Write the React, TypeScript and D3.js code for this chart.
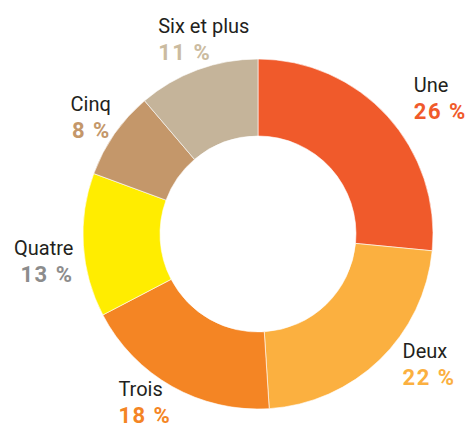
import { useEffect, useRef } from "react";
import * as d3 from "d3";

const categories = ["Une", "Deux", "Trois", "Quatre", "Cinq", "Six et plus"];
const shares = [26, 22, 18, 13, 8, 11];
const shareLabels = ["26 %", "22 %", "18 %", "13 %", "8 %", "11 %"];

const sliceColors = ["#f05a2b", "#fbb040", "#f48524", "#ffed00", "#c4976a", "#c5b49a"];
// yellow text is unreadable on white, so the Quatre share is printed in grey
const textColors = ["#f05a2b", "#fbb040", "#f48524", "#8c8c8c", "#c4976a", "#cbbba0"];

// where each label block sits, relative to the slice's mid angle at r=205
const labelNudge: Record<string, { dx: number; dy: number; anchor: string }> = {
    Une: { dx: 4, dy: -4, anchor: "start" },
    Deux: { dx: 2, dy: -23, anchor: "start" },
    Trois: { dx: -39, dy: -17, anchor: "start" },
    Quatre: { dx: 20, dy: 8, anchor: "end" },
    Cinq: { dx: 21, dy: -6, anchor: "end" },
    "Six et plus": { dx: -29, dy: -9, anchor: "start" },
};

export default function App() {
    const svgRef = useRef<SVGSVGElement>(null);

    useEffect(() => {
        if (!svgRef.current) return;
        const svg = d3.select(svgRef.current);
        svg.selectAll("*").remove();

        const cx = 258;
        const cy = 234;
        const outer = 175;
        const inner = 98;

        const data = categories.map((c, i) => ({ name: c, value: shares[i], label: shareLabels[i], i }));

        const pie = d3
            .pie<(typeof data)[number]>()
            .sort(null)
            .value((d) => d.value);
        const arcs = pie(data);

        const arc = d3.arc<d3.PieArcDatum<(typeof data)[number]>>().innerRadius(inner).outerRadius(outer);

        const g = svg.append("g").attr("transform", `translate(${cx},${cy})`);

        g.selectAll("path.slice")
            .data(arcs)
            .enter()
            .append("path")
            .attr("class", "slice")
            .attr("d", arc)
            .attr("fill", (d) => sliceColors[d.data.i])
            .attr("stroke", "#ffffff")
            .attr("stroke-width", 0.6);

        const labelArc = d3.arc<d3.PieArcDatum<(typeof data)[number]>>().innerRadius(205).outerRadius(205);

        const labels = g
            .selectAll("g.lbl")
            .data(arcs)
            .enter()
            .append("g")
            .attr("class", "lbl")
            .attr("transform", (d) => {
                const [x, y] = labelArc.centroid(d);
                const n = labelNudge[d.data.name];
                return `translate(${x + n.dx},${y + n.dy})`;
            });

        labels
            .append("text")
            .attr("text-anchor", (d) => labelNudge[d.data.name].anchor)
            .attr("font-family", "Roboto, 'Noto Sans', sans-serif")
            .attr("font-size", 20)
            .attr("fill", "#231f20")
            .text((d) => d.data.name);

        labels
            .append("text")
            .attr("y", 27)
            .attr("text-anchor", (d) => labelNudge[d.data.name].anchor)
            .attr("font-family", "Roboto, 'Noto Sans', sans-serif")
            .attr("font-size", 22)
            .attr("font-weight", "bold")
            .attr("letter-spacing", 1.5)
            .attr("fill", (d) => textColors[d.data.i])
            .text((d) => d.data.label);
    }, []);

    return (
        <svg
            ref={svgRef}
            width={472}
            height={425}
            style={{ position: "absolute", left: 0, top: 0, background: "#ffffff" }}
        />
    );
}
